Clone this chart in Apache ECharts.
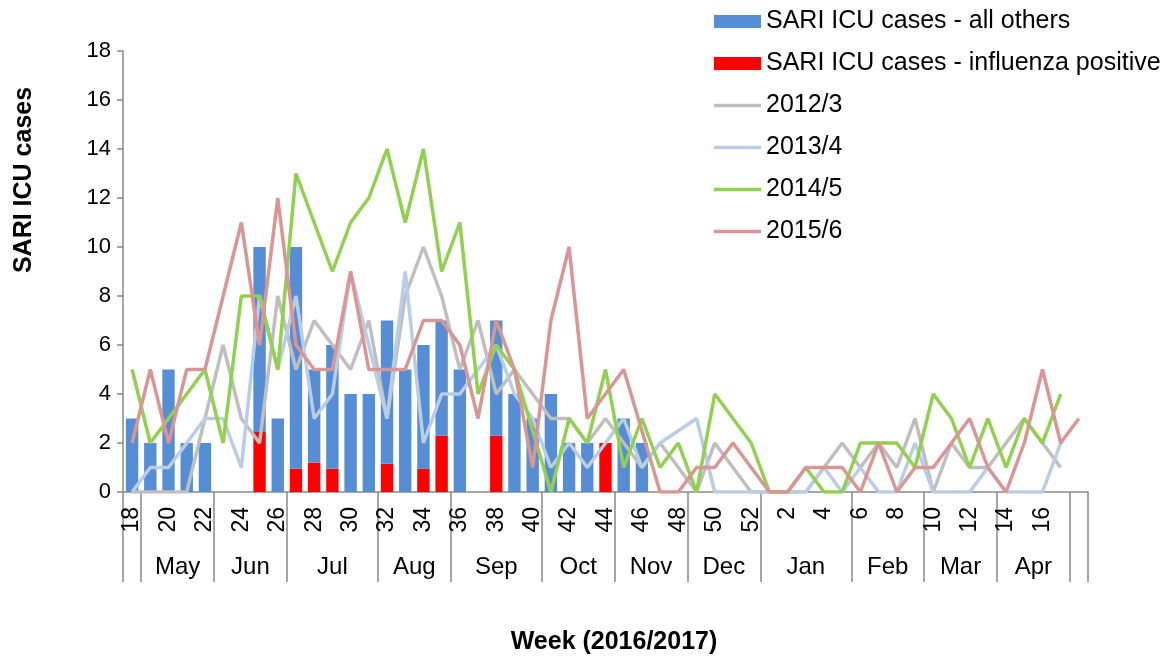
<!DOCTYPE html>
<html>
<head>
<meta charset="utf-8">
<script src="https://cdn.jsdelivr.net/npm/echarts@6/dist/echarts.min.js"></script>
<style>
  html, body { margin: 0; padding: 0; background: #fff; }
  #chart { width: 1172px; height: 661px; }
</style>
</head>
<body>
<div id="chart"></div>
<script>
// week numbers, May 2016 -> Apr 2017
var weeks = ['18','19','20','21','22','23','24','25','26','27','28','29','30','31','32','33','34','35',
  '36','37','38','39','40','41','42','43','44','45','46','47','48','49','50','51','52',
  '1','2','3','4','5','6','7','8','9','10','11','12','13','14','15','16','17','18'];

// month groups on the second axis row (boundaries in category units)
var monthNames = ['May','Jun','Jul','Aug','Sep','Oct','Nov','Dec','Jan','Feb','Mar','Apr'];
var monthBounds = [0, 1, 5, 9, 14, 18, 23, 27, 31, 35, 40, 44, 48, 52, 53];

// current season bars
var othersCases = [3,2,5,2,2,null,null,7.55,3,9.05,3.8,5.05,4,4,5.85,5,5.05,4.7,5,null,4.7,4,3,4,2,2,null,3,2];
var fluPositive = [null,null,null,null,null,null,null,2.45,null,0.95,1.2,0.95,null,null,1.15,null,0.95,2.3,null,null,2.3,null,null,null,null,null,2,null,null];

// previous seasons
var season2012 = [0,0,0,0,3,6,3,2,8,5,7,6,5,7,3,8,10,8,5,7,4,5,4,3,3,2,3,2,1,2,1,0,2,1,0,0,0,0,1,2,1,2,1,3,0,2,1,1,2,3,2,1];
var season2013 = [0,1,1,2,3,3,1,8,5,8,3,4,9,6,3,9,2,4,4,5,6,4,3,1,2,1,2,3,1,2,2.5,3,0,0,0,0,0,0,1,0,1,0,0,2,0,0,0,1,0,0,0,2];
var season2014 = [5,2,3,4,5,2,8,8,5,13,11,9,11,12,14,11,14,9,11,4,6,5,2.5,0,3,2,5,1,3,1,2,0,4,3,2,0,0,1,0,0,2,2,2,1,4,3,1,3,1,3,2,4];
var season2015 = [2,5,2,5,5,8,11,6,12,6,5,5,9,5,5,5,7,7,6,3,7,5,1,7,10,3,4,5,2.5,0,0,1,1,2,1,0,0,1,1,1,0,2,0,1,1,2,3,1,0,2,5,2,3];

var monthCenters = [];
for (var i = 0; i < monthNames.length; i++) {
  monthCenters.push((monthBounds[i + 1] + monthBounds[i + 2]) / 2);
}

var FONT = 'Liberation Sans, Arial, sans-serif';
var AXIS_GRAY = '#898989';
var LINE_ICON = 'path://M0,0H47V3.5H0Z';

function lineSeries(name, data, color) {
  return {
    name: name,
    type: 'line',
    data: data,
    symbol: 'none',
    z: 3,
    lineStyle: { color: color, width: 3.5 },
    itemStyle: { color: color }
  };
}

var chart = echarts.init(document.getElementById('chart'));
chart.setOption({
  animation: false,
  textStyle: { fontFamily: FONT },
  grid: { left: 123, right: 84, top: 51, bottom: 169 },
  legend: {
    orient: 'vertical',
    left: 709,
    top: 4,
    itemWidth: 47,
    itemHeight: 13,
    itemGap: 17,
    textStyle: { fontSize: 25, color: '#000', lineHeight: 25, fontFamily: FONT },
    data: [
      { name: 'SARI ICU cases - all others', icon: 'rect' },
      { name: 'SARI ICU cases - influenza positive', icon: 'rect' },
      { name: '2012/3', icon: LINE_ICON },
      { name: '2013/4', icon: LINE_ICON },
      { name: '2014/5', icon: LINE_ICON },
      { name: '2015/6', icon: LINE_ICON }
    ]
  },
  xAxis: [{
    type: 'category',
    data: weeks,
    boundaryGap: true,
    axisLine: { lineStyle: { color: AXIS_GRAY, width: 1.5 } },
    axisTick: { interval: 0, length: 45, lineStyle: { color: AXIS_GRAY, width: 1.5 } },
    axisLabel: {
      rotate: 90,
      margin: 15,
      fontSize: 23,
      color: '#000',
      interval: function (index) { return index % 2 === 0 && index < 52; }
    }
  }, {
    type: 'value',
    min: 0,
    max: 53,
    position: 'bottom',
    axisLine: { show: false },
    splitLine: { show: false },
    axisTick: { show: true, length: 90, customValues: monthBounds, lineStyle: { color: AXIS_GRAY, width: 1.5 } },
    axisLabel: {
      customValues: monthCenters,
      margin: 63,
      fontSize: 24,
      color: '#000',
      formatter: function (v) {
        for (var k = 0; k < monthCenters.length; k++) {
          if (Math.abs(monthCenters[k] - v) < 0.01) return monthNames[k];
        }
        return '';
      }
    }
  }],
  yAxis: {
    type: 'value',
    min: 0,
    max: 18,
    interval: 2,
    axisLine: { show: true, lineStyle: { color: AXIS_GRAY, width: 1.5 } },
    axisTick: { show: true, length: 6, lineStyle: { color: AXIS_GRAY, width: 1.5 } },
    splitLine: { show: false },
    axisLabel: { fontSize: 22, color: '#000', margin: 12 }
  },
  graphic: [{
    type: 'text',
    x: 24,
    y: 180,
    rotation: Math.PI / 2,
    style: {
      text: 'SARI ICU cases',
      font: 'bold 25px ' + FONT,
      fill: '#000',
      textAlign: 'center',
      textVerticalAlign: 'middle'
    }
  }, {
    type: 'text',
    x: 614,
    y: 642,
    style: {
      text: 'Week (2016/2017)',
      font: 'bold 25px ' + FONT,
      fill: '#000',
      textAlign: 'center',
      textVerticalAlign: 'middle'
    }
  }],
  series: [{
    name: 'SARI ICU cases - influenza positive',
    type: 'bar',
    stack: 'cases',
    data: fluPositive,
    barWidth: '68%',
    itemStyle: { color: '#FF0000' }
  }, {
    name: 'SARI ICU cases - all others',
    type: 'bar',
    stack: 'cases',
    data: othersCases,
    barWidth: '68%',
    itemStyle: { color: '#558ED5' }
  },
    lineSeries('2012/3', season2012, '#BFBFBF'),
    lineSeries('2013/4', season2013, '#B9CDE5'),
    lineSeries('2014/5', season2014, '#92D050'),
    lineSeries('2015/6', season2015, '#D99694')
  ]
});
</script>
</body>
</html>
